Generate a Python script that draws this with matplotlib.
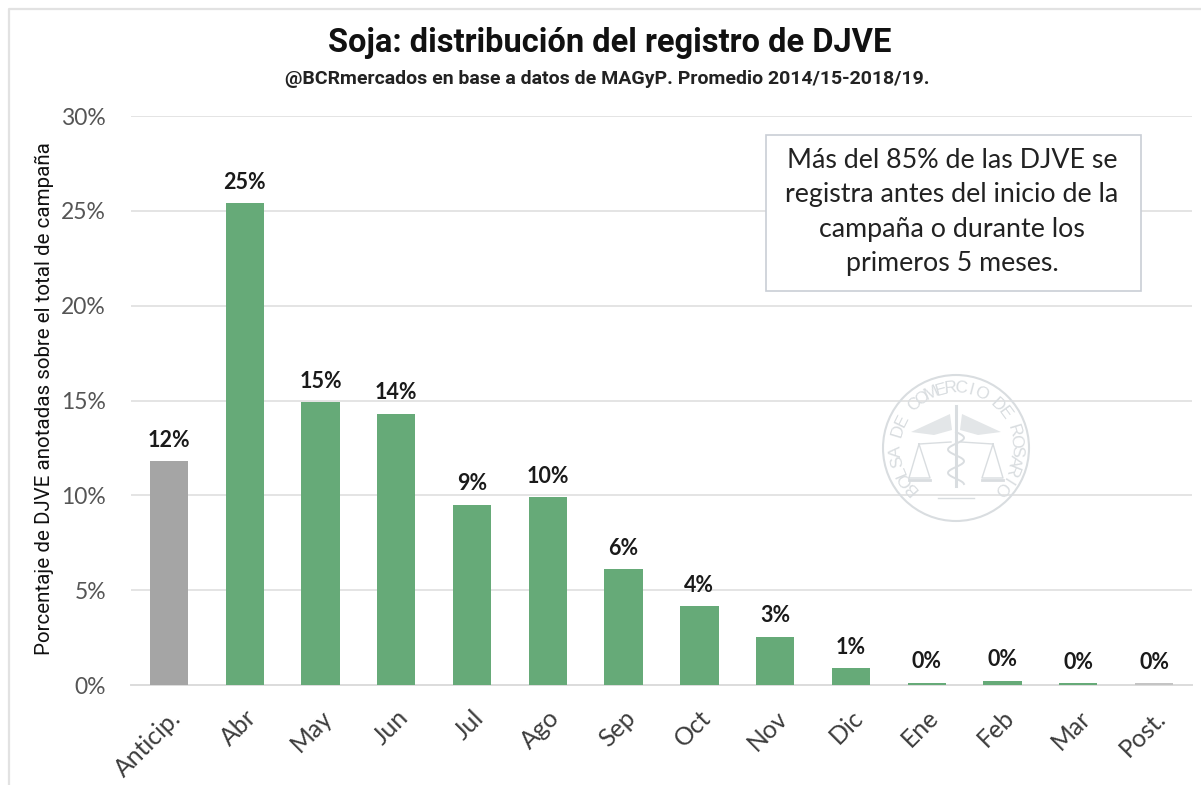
import numpy as np
import matplotlib
matplotlib.use("Agg")
import matplotlib.pyplot as plt
from matplotlib.patches import Circle, Rectangle, Polygon

categories = ["Anticip.", "Abr", "May", "Jun", "Jul", "Ago", "Sep", "Oct", "Nov", "Dic", "Ene", "Feb", "Mar", "Post."]
values = [11.8, 25.4, 14.9, 14.3, 9.5, 9.9, 6.1, 4.15, 2.55, 0.9, 0.12, 0.22, 0.1, 0.1]
labels = ["12%", "25%", "15%", "14%", "9%", "10%", "6%", "4%", "3%", "1%", "0%", "0%", "0%", "0%"]
colors = ["#a5a5a5"] + ["#66aa78"] * 12 + ["#c4c4c4"]
yticks = [0, 5, 10, 15, 20, 25, 30]

W, H = 1201, 785
fig = plt.figure(figsize=(W / 100, H / 100), dpi=100, facecolor="white")
plt.rcParams["font.family"] = ["Lato", "DejaVu Sans"]
ax = fig.add_axes([131 / W, 1 - 685 / H, (1192 - 131) / W, (685 - 116) / H])
ax.set_zorder(2)
ax.patch.set_alpha(0)
x = np.arange(len(categories))
ax.bar(x, values, width=0.505, color=colors, zorder=3)
ax.set_xlim(-0.5, len(categories) - 0.5)
ax.set_ylim(0, 30)
ax.set_yticks(yticks)
ax.set_yticklabels([f"{t}%" for t in yticks], fontsize=16.5, color="#555555")
ax.set_xticks(x)
ax.set_xticklabels(categories, rotation=45, ha="right", rotation_mode="anchor", fontsize=17.8, color="#3c3c3c")
ax.tick_params(length=0, axis="both")
ax.tick_params(axis="y", pad=18)
ax.tick_params(axis="x", pad=15)
ax.grid(axis="y", color="#e4e4e4", lw=1.4, zorder=0)
ax.set_axisbelow(True)
for s in ["top", "right", "left"]:
    ax.spines[s].set_visible(False)
ax.spines["bottom"].set_color("#dcdcdc")
ax.spines["bottom"].set_linewidth(1.4)
for xi, v, lab in zip(x, values, labels):
    ax.annotate(lab, (xi, v), xytext=(0, 7.5), textcoords="offset points", ha="center", va="bottom",
                fontsize=15.5, fontweight="bold", color="#1a1a1a", zorder=5)

# whole-figure pixel overlay
ov = fig.add_axes([0, 0, 1, 1], zorder=3)
ov.set_xlim(0, W)
ov.set_ylim(H, 0)
ov.axis("off")
ov.patch.set_alpha(0)
ov.plot([8.5, 8.5, 1201], [785, 8.5, 8.5], color="#e2e2e2", lw=1.6)

title_font = ["Roboto", "DejaVu Sans"]
ov.text(610, 43, "Soja: distribución del registro de DJVE", ha="center", va="center",
        fontsize=23.5, fontweight="bold", family=title_font, color="#111111")
ov.text(607, 79, "@BCRmercados en base a datos de MAGyP. Promedio 2014/15-2018/19.", ha="center", va="center",
        fontsize=14, fontweight="bold", family=title_font, color="#222222")
ov.text(44, 399, "Porcentaje de DJVE anotadas sobre el total de campaña", rotation=90, ha="center", va="center",
        fontsize=14.8, family=["Roboto", "DejaVu Sans"], color="#111111")

ov.add_patch(Rectangle((765.5, 134.5), 375, 156, fc="white", ec="#c9ced6", lw=1.2, zorder=4))
ov.text(952, 212, "Más del 85% de las DJVE se\nregistra antes del inicio de la\ncampaña o durante los\nprimeros 5 meses.",
        ha="center", va="center", fontsize=19.3, linespacing=1.48, color="#222222", zorder=5)

# watermark seal
cx, cy = 956, 448
wm = "#d9dde0"
ov.add_patch(Circle((cx, cy), 73, fc="none", ec=wm, lw=1.5, zorder=1))
seal = "BOLSA DE COMERCIO DE ROSARIO"
angles = np.linspace(-132, 132, len(seal))
for ch, a in zip(seal, angles):
    r = 60
    px = cx + r * np.sin(np.deg2rad(a))
    py = cy - r * np.cos(np.deg2rad(a))
    ov.text(px, py, ch, rotation=-a, ha="center", va="center", fontsize=12.5, color=wm,
            family="Liberation Sans", rotation_mode="anchor", zorder=1)
ov.add_patch(Polygon([[cx - 45, cy - 16], [cx - 6, cy - 34], [cx - 4, cy - 18], [cx - 22, cy - 13]], fc="#e3e6e8", ec="none", zorder=1))
ov.add_patch(Polygon([[cx + 45, cy - 16], [cx + 6, cy - 34], [cx + 4, cy - 18], [cx + 22, cy - 13]], fc="#e3e6e8", ec="none", zorder=1))
ov.plot([cx, cx], [cy - 42, cy + 38], color=wm, lw=2.2, zorder=1)
ov.plot(cx + 8 * np.sin(np.linspace(0, 14, 80)), np.linspace(cy - 16, cy + 36, 80), color=wm, lw=1.4, zorder=1)
for sgn in (-1, 1):
    ov.plot([cx + sgn * 5, cx + sgn * 37], [cy - 6, cy - 4], color=wm, lw=1, zorder=1)
    ov.plot([cx + sgn * 37, cx + sgn * 26, cx + sgn * 47, cx + sgn * 37], [cy - 4, cy + 30, cy + 30, cy - 4], color=wm, lw=1, zorder=1)
    ov.plot([cx + sgn * 26, cx + sgn * 47], [cy + 32, cy + 32], color=wm, lw=2, zorder=1)
ov.plot([cx - 18, cx + 18], [cy + 50, cy + 50], color=wm, lw=1, zorder=1)

fig.savefig("out.png", dpi=100, facecolor="white")
